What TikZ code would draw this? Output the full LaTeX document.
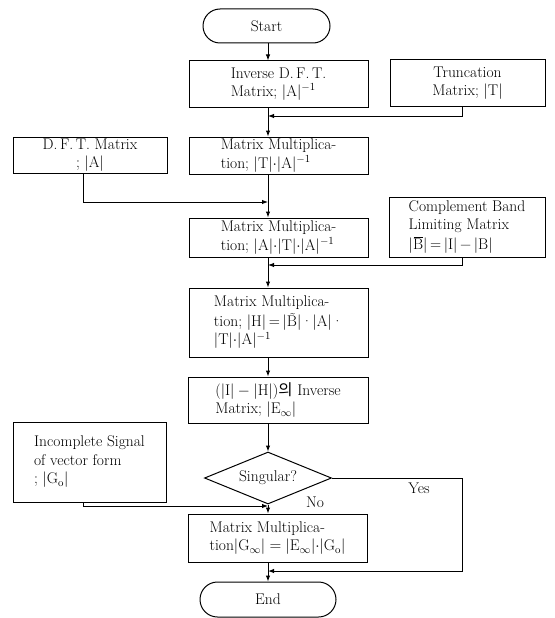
\documentclass[tikz,border=0pt]{standalone}
\usepackage{fix-cm}
\usepackage{fontspec}
\newfontfamily\kr{Noto Sans CJK KR}
\usetikzlibrary{arrows.meta,shapes.geometric,shapes.misc}
\newcommand\mr[1]{\mathrm{#1}}
\newcommand\dt{{\cdot}}
\newcommand\Bbar{\leavevmode\hbox{\rlap{\kern0.8pt\raisebox{12.2pt}{\rule{9pt}{0.6pt}}}B}}
\newcommand\Btil{\leavevmode\hbox{\rlap{\kern2.2pt\raisebox{3.2pt}{˜}}B}}
\begin{document}
\begin{tikzpicture}[x=1pt,y=-1pt,
  every node/.style={font=\fontsize{15.5}{18.5}\selectfont, inner sep=0pt},
  box/.style={draw, line width=1pt, minimum width=179pt, align=left},
  sidebox/.style={draw, line width=1pt, minimum width=155pt},
  term/.style={draw, line width=1pt, rounded rectangle},
  dec/.style={draw, line width=1pt, diamond, aspect=2.44, minimum width=127pt, minimum height=52pt},
  link/.style={line width=1pt},
  arr/.style={link, -{Latex[length=6pt,width=4.5pt]}},
  lbl/.style={}]
\useasboundingbox (0,0) rectangle (554,618);
\coordinate (ax) at (268,0);
% nodes
\node[term, minimum width=127pt, minimum height=34pt] (start) at (266.5,26) {Start};
\node[box, minimum height=46pt] (inv) at (278.5,84) {Inverse D.\,F.\,T.\\Matrix; $|\mr{A}|^{-1}$};
\node[sidebox, minimum height=46pt, align=center] (trunc) at (467.5,83) {Truncation\\Matrix; $|\mr{T}|$};
\node[sidebox, minimum width=154pt, minimum height=36pt, align=center] (dft) at (90,155) {D.\,F.\,T. Matrix\\; $|\mr{A}|$};
\node[box, minimum height=37pt] (mm1) at (278.5,155.5) {Matrix Multiplica-\\tion; $|\mr{T}|\dt|\mr{A}|^{-1}$};
\node[box, minimum height=39pt] (mm2) at (278.5,237.5) {Matrix Multiplica-\\tion; $|\mr{A}|\dt|\mr{T}|\dt|\mr{A}|^{-1}$};
\node[sidebox, minimum width=156pt, minimum height=60pt, align=left] (comp) at (467,227) {Complement Band\\Limiting Matrix\\[1pt]|\Bbar|\,=\,|I|\,−\,|B|};
\node[box, minimum height=69pt] (mm3) at (278.5,322.5) {Matrix Multiplica-\\[1pt]tion; |H|\,=\,|\Btil|·|A|·\\$|\mr{T}|\dt|\mr{A}|^{-1}$};
\node[box, minimum width=180pt, minimum height=46pt] (inv2) at (278,400) {($|\mr{I}|-|\mr{H}|$){\kr 의} Inverse\\Matrix; $|\mr{E}_\infty|$};
\node[sidebox, minimum width=153pt, minimum height=80pt, align=left] (inc) at (89.5,462) {Incomplete Signal\\of vector form\\; $|\mr{G}_\mr{o}|$};
\node[dec] (sing) at (268,478) {Singular?};
\node[box, minimum height=48pt] (mm4) at (277.5,538) {Matrix Multiplica-\\tion$|\mr{G}_\infty|=|\mr{E}_\infty|\dt|\mr{G}_\mr{o}|$};
\node[term, minimum width=136pt, minimum height=35pt] (end) at (268,599.5) {End};
\node[lbl] (yes) at (419,488) {Yes};
\node[lbl] (no) at (315,502) {No};
% connectors
\draw[arr] (start.south -| ax) -- (inv.north -| ax);
\draw[arr] (inv.south -| ax) -- (mm1.north -| ax);
\coordinate (tj) at (462,116);
\draw[arr] (trunc.south -| tj) -- (tj) -- (tj -| ax);
\draw[arr] (mm1.south -| ax) -- (mm2.north -| ax);
\coordinate (dj) at (83,202);
\draw[arr] (dft.south -| dj) -- (dj) -- (dj -| ax);
\draw[arr] (mm2.south -| ax) -- (mm3.north -| ax);
\coordinate (cj) at (462,265);
\draw[arr] (comp.south -| cj) -- (cj) -- (cj -| ax);
\draw[arr] (mm3.south -| ax) -- (inv2.north -| ax);
\draw[arr] (inv2.south -| ax) -- (sing.north);
\coordinate (ij) at (83,506);
\draw[arr] (inc.south -| ij) -- (ij) -- (ij -| ax);
\draw[arr] (sing.south) -- (mm4.north -| ax);
\coordinate (yj) at (462,571);
\draw[arr] (sing.east) -- (sing.east -| yj) -- (yj) -- (yj -| ax);
\draw[arr] (mm4.south -| ax) -- (end.north -| ax);
\end{tikzpicture}
\end{document}
